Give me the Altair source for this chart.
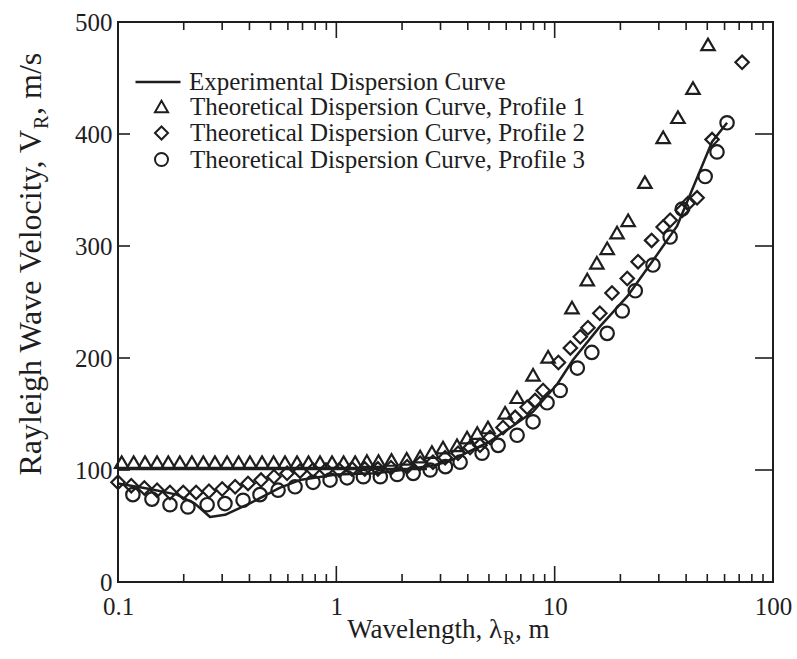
import altair as alt
import pandas as pd

FONT = "Liberation Serif"
INK = "#1e1e1e"

LABEL_EXP = "Experimental Dispersion Curve"
LABEL_P1 = "Theoretical Dispersion Curve, Profile 1"
LABEL_P2 = "Theoretical Dispersion Curve, Profile 2"
LABEL_P3 = "Theoretical Dispersion Curve, Profile 3"

X_TITLE = ["Wavelength, λ", "R", ", m"]
Y_TITLE = ["Rayleigh Wave Velocity, V", "R", ",  m/s"]

# Experimental dispersion curve (main branch)
exp_x = [0.1, 0.14, 0.186, 0.225, 0.264, 0.309, 0.40, 0.55, 0.68, 1.0, 1.5, 2.0, 2.78,
         3.3, 4.0, 5.0, 6.5, 7.96, 10.3, 12.1, 16.1, 21.5, 28.2, 36.4, 43.0, 52.6, 61.6]
exp_v = [88, 83, 78, 70, 58, 60, 70, 84, 91, 96, 97, 100, 104,
         108, 116, 125, 140, 152, 177, 198, 228, 255, 287, 318, 352, 393, 410]
# Experimental curve (flat branch at short wavelengths)
flat_x = [0.1, 2.6]
flat_v = [101, 101]

# Theoretical, Profile 1 (triangles)
p1_x = [0.104, 0.118, 0.133, 0.151, 0.170, 0.192, 0.218, 0.246, 0.278, 0.316,
        0.357, 0.402, 0.457, 0.516, 0.582, 0.661, 0.746, 0.842, 0.956, 1.08,
        1.22, 1.38, 1.56, 1.79, 2.10, 2.42, 2.74, 3.08, 3.57, 3.97,
        4.42, 4.95, 5.93, 6.73, 7.96, 9.33, 12.0, 14.1, 15.6, 17.4,
        19.3, 21.7, 25.9, 31.4, 36.7, 43.0, 50.4]
p1_v = [107, 107, 107, 107, 107, 107, 107, 107, 107, 107,
        107, 107, 107, 107, 107, 107, 107, 107, 107, 107,
        107, 108, 108, 109, 110, 112, 116, 120, 122, 129,
        133, 138, 151, 165, 185, 201, 245, 270, 285, 298,
        312, 323, 357, 397, 415, 441, 480]

# Theoretical, Profile 2 (diamonds)
p2_x = [0.100, 0.115, 0.132, 0.151, 0.173, 0.199, 0.228, 0.261, 0.300, 0.344,
        0.394, 0.452, 0.518, 0.595, 0.682, 0.782, 0.897, 1.03, 1.18, 1.35,
        1.55, 1.78, 2.11, 2.42, 2.77, 3.15, 3.61, 4.10, 4.55, 5.06,
        5.80, 6.59, 7.48, 8.13, 8.85, 10.4, 11.8, 13.1, 14.2, 16.1,
        18.3, 21.5, 24.1, 27.8, 31.4, 33.8, 38.4, 40.8, 44.9, 52.6, 72.2]
p2_v = [89, 86, 84, 82, 80, 80, 80, 81, 83, 85,
        88, 91, 94, 97, 99, 100, 100, 100, 101, 101,
        101, 102, 103, 106, 107, 111, 115, 120, 122, 129,
        138, 147, 156, 162, 171, 196, 209, 219, 227, 240,
        258, 271, 286, 305, 317, 323, 332, 338, 343, 395, 464]

# Theoretical, Profile 3 (circles)
p3_x = [0.117, 0.143, 0.173, 0.209, 0.256, 0.309, 0.374, 0.447, 0.541, 0.647,
        0.782, 0.936, 1.12, 1.33, 1.59, 1.90, 2.25, 2.69, 3.16, 3.69,
        4.65, 5.51, 6.73, 7.96, 9.23, 10.6, 12.7, 14.8, 17.4, 20.4,
        23.4, 28.2, 33.8, 38.4, 48.9, 55.4, 61.6]
p3_v = [78, 74, 69, 67, 69, 70, 73, 78, 82, 85,
        89, 91, 93, 94, 94, 96, 97, 100, 103, 107,
        115, 122, 131, 143, 160, 171, 191, 205, 222, 242,
        260, 283, 308, 333, 362, 384, 410]

# Axis ticks / labels
x_label_values = [0.1, 1, 10, 100]
x_major_ticks = [0.1, 1, 10, 100]
x_minor_ticks = [0.2, 0.3, 0.4, 0.5, 0.6, 0.7, 0.8, 0.9,
                 2, 3, 4, 5, 6, 7, 8, 9,
                 20, 30, 40, 50, 60, 70, 80, 90]
y_label_values = [0, 100, 200, 300, 400, 500]
y_ticks = [100, 200, 300, 400]

W, H = 655, 560

exp_df = pd.DataFrame({
    "wavelength": exp_x + flat_x,
    "velocity": exp_v + flat_v,
    "seg": ["main"] * len(exp_x) + ["flat"] * len(flat_x),
    "curve": [LABEL_EXP] * (len(exp_x) + len(flat_x)),
})
pts_df = pd.concat([
    pd.DataFrame({"wavelength": p1_x, "velocity": p1_v, "series": LABEL_P1}),
    pd.DataFrame({"wavelength": p2_x, "velocity": p2_v, "series": LABEL_P2}),
    pd.DataFrame({"wavelength": p3_x, "velocity": p3_v, "series": LABEL_P3}),
])

xscale = alt.Scale(type="log", domain=[0.1, 100], nice=False)
yscale = alt.Scale(domain=[0, 500], nice=False, zero=False)
xaxis = alt.Axis(values=x_label_values, format="~g", title=None, ticks=False, domain=False,
                 grid=False, labelFont=FONT, labelFontSize=25, labelColor=INK,
                 labelPadding=12, labelFlush=False)
yaxis = alt.Axis(values=y_label_values, title=None, ticks=False, domain=False, grid=False,
                 labelFont=FONT, labelFontSize=25, labelColor=INK, labelPadding=6)
xenc = alt.X("wavelength:Q", scale=xscale, axis=xaxis)
yenc = alt.Y("velocity:Q", scale=yscale, axis=yaxis)

points = alt.Chart(pts_df).mark_point(filled=False, strokeWidth=2.2, color=INK, opacity=1,
                                      size=180).encode(
    x=xenc, y=yenc,
    shape=alt.Shape("series:N",
                    scale=alt.Scale(domain=[LABEL_P1, LABEL_P2, LABEL_P3],
                                    range=["triangle-up", "diamond", "circle"]),
                    legend=alt.Legend(title=None, orient="none", legendX=31, legendY=72,
                                      symbolSize=170, symbolStrokeWidth=2,
                                      symbolStrokeColor=INK,
                                      labelFont=FONT, labelFontSize=25, labelColor=INK,
                                      labelOffset=16, rowPadding=0.5, padding=0,
                                      labelLimit=700)),
)

line = alt.Chart(exp_df).mark_line(strokeWidth=2.5, strokeJoin="round").encode(
    x=xenc, y=yenc, detail="seg:N",
    color=alt.Color("curve:N", scale=alt.Scale(domain=[LABEL_EXP], range=[INK]),
                    legend=alt.Legend(title=None, orient="none", legendX=16, legendY=36,
                                      symbolType="stroke", symbolSize=2025,
                                      symbolStrokeWidth=2.5, labelFont=FONT, labelFontSize=25,
                                      labelColor=INK, labelOffset=7, padding=0, labelLimit=700)),
)

xmaj = pd.DataFrame({"wavelength": x_major_ticks})
xmin = pd.DataFrame({"wavelength": x_minor_ticks})
ytk = pd.DataFrame({"velocity": y_ticks})

tick_style = dict(color=INK, strokeWidth=1.6)
ticks = [
    alt.Chart(xmaj).mark_rule(**tick_style).encode(x=xenc, y=alt.value(H), y2=alt.value(H - 16)),
    alt.Chart(xmaj).mark_rule(**tick_style).encode(x=xenc, y=alt.value(0), y2=alt.value(16)),
    alt.Chart(xmin).mark_rule(**tick_style).encode(x=xenc, y=alt.value(H), y2=alt.value(H - 8)),
    alt.Chart(xmin).mark_rule(**tick_style).encode(x=xenc, y=alt.value(0), y2=alt.value(8)),
    alt.Chart(ytk).mark_rule(**tick_style).encode(y=yenc, x=alt.value(0), x2=alt.value(12)),
    alt.Chart(ytk).mark_rule(**tick_style).encode(y=yenc, x=alt.value(W), x2=alt.value(W - 18)),
]


def txt(s, size, align, x, y, angle=0):
    return alt.Chart(pd.DataFrame({"t": [s]})).mark_text(
        font=FONT, fontSize=size, color=INK, align=align, baseline="alphabetic", angle=angle
    ).encode(text="t:N", x=alt.value(x), y=alt.value(y))


titles = [
    txt(X_TITLE[0], 27, "right", 384, 616),
    txt(X_TITLE[1], 18, "left", 385, 622),
    txt(X_TITLE[2], 27, "left", 397, 616),
    txt(Y_TITLE[0], 32, "right", -77, 108, 270),
    txt(Y_TITLE[1], 20, "left", -70, 107, 270),
    txt(Y_TITLE[2], 32, "left", -77, 93, 270),
]

chart = alt.layer(points, line, *ticks, *titles).properties(
    width=W, height=H,
    autosize=alt.AutoSizeParams(type="none"),
    padding={"left": 118, "top": 22, "right": 24, "bottom": 77},
    background="white",
).configure_view(stroke=INK, strokeWidth=2)

chart.save("out.html", embed_options={"renderer": "svg", "actions": False})
